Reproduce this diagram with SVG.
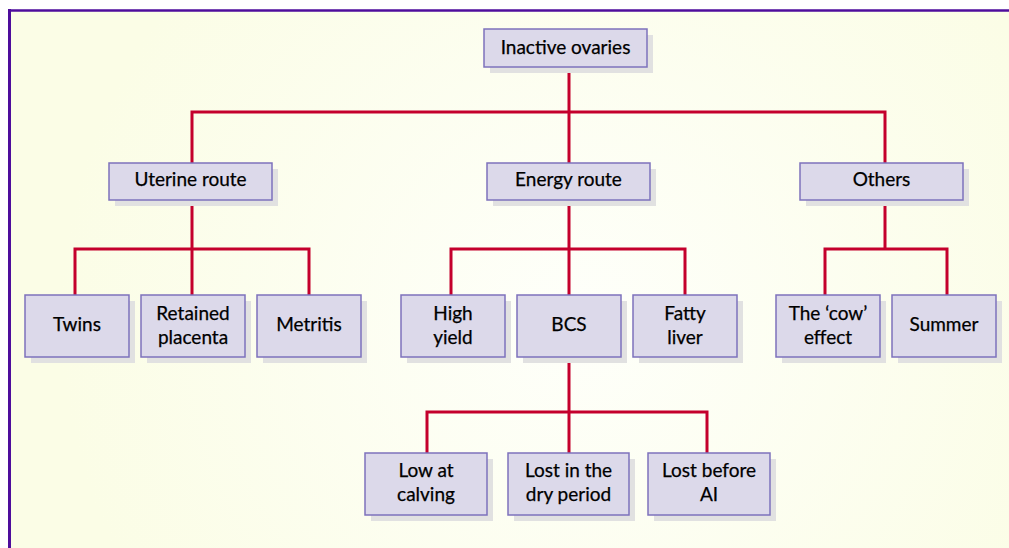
<svg xmlns="http://www.w3.org/2000/svg" width="1009" height="548" viewBox="0 0 1009 548">
<defs>
<radialGradient id="bg" cx="580" cy="320" r="520" gradientUnits="userSpaceOnUse">
<stop offset="0" stop-color="#fefffa"/>
<stop offset="1" stop-color="#fbfde6"/>
</radialGradient>
<style>
.sh{fill:#e1e1e1}
.bx{fill:#dcd9ea;stroke:#7d72bc;stroke-width:1.5}
.t{font-family:Lato,"Open Sans",sans-serif;font-size:19px;fill:#000;text-anchor:middle;stroke:#000;stroke-width:0.25}
.c{stroke:#c4002c;stroke-width:3;fill:none;stroke-linecap:square}
</style>
</defs>
<rect x="0" y="0" width="1009" height="548" fill="#ffffff"/>
<rect x="10" y="10" width="999" height="538" fill="url(#bg)"/>
<line x1="8" y1="10.5" x2="1009" y2="10.5" stroke="#4e0d9c" stroke-width="2.5"/>
<line x1="9.5" y1="9" x2="9.5" y2="548" stroke="#4e0d9c" stroke-width="3"/>
<g id="connectors">
<path class="c" d="M569 66V163M192 163V112H885V163"/>
<path class="c" d="M192 200V295M75 295V249H309V295"/>
<path class="c" d="M569 200V295M451 295V249H685V295"/>
<path class="c" d="M885 200V249M825 295V249H947V295"/>
<path class="c" d="M569 357V453M427 453V412H707V453"/>
</g>
<g id="n-inactive"><rect class="sh" x="490" y="35" width="163" height="38"/><rect class="bx" x="484" y="29" width="163" height="38"/><text class="t" x="565.5" y="53.5">Inactive ovaries</text></g>
<g id="n-uterine"><rect class="sh" x="115" y="169" width="163" height="37"/><rect class="bx" x="109" y="163" width="163" height="37"/><text class="t" x="190.5" y="186">Uterine route</text></g>
<g id="n-energy"><rect class="sh" x="493" y="169" width="163" height="37"/><rect class="bx" x="487" y="163" width="163" height="37"/><text class="t" x="568.5" y="186">Energy route</text></g>
<g id="n-others"><rect class="sh" x="806" y="169" width="163" height="37"/><rect class="bx" x="800" y="163" width="163" height="37"/><text class="t" x="881.5" y="186">Others</text></g>
<g id="n-twins"><rect class="sh" x="31" y="301" width="104" height="62"/><rect class="bx" x="25" y="295" width="104" height="62"/><text class="t" x="77" y="331">Twins</text></g>
<g id="n-retained"><rect class="sh" x="147" y="301" width="104" height="62"/><rect class="bx" x="141" y="295" width="104" height="62"/><text class="t" x="193" y="320">Retained</text><text class="t" x="193" y="344">placenta</text></g>
<g id="n-metritis"><rect class="sh" x="263" y="301" width="104" height="62"/><rect class="bx" x="257" y="295" width="104" height="62"/><text class="t" x="309" y="331">Metritis</text></g>
<g id="n-high"><rect class="sh" x="407" y="301" width="104" height="62"/><rect class="bx" x="401" y="295" width="104" height="62"/><text class="t" x="453" y="320">High</text><text class="t" x="453" y="344">yield</text></g>
<g id="n-bcs"><rect class="sh" x="523" y="301" width="104" height="62"/><rect class="bx" x="517" y="295" width="104" height="62"/><text class="t" x="569" y="331">BCS</text></g>
<g id="n-fatty"><rect class="sh" x="639" y="301" width="104" height="62"/><rect class="bx" x="633" y="295" width="104" height="62"/><text class="t" x="685" y="320">Fatty</text><text class="t" x="685" y="344">liver</text></g>
<g id="n-cow"><rect class="sh" x="782" y="301" width="104" height="62"/><rect class="bx" x="776" y="295" width="104" height="62"/><text class="t" x="828" y="320">The ‘cow’</text><text class="t" x="828" y="344">effect</text></g>
<g id="n-summer"><rect class="sh" x="898" y="301" width="104" height="62"/><rect class="bx" x="892" y="295" width="104" height="62"/><text class="t" x="944" y="331">Summer</text></g>
<g id="n-low"><rect class="sh" x="371" y="459" width="122" height="62"/><rect class="bx" x="365" y="453" width="122" height="62"/><text class="t" x="426" y="477">Low at</text><text class="t" x="426" y="501">calving</text></g>
<g id="n-dry"><rect class="sh" x="514" y="459" width="121" height="62"/><rect class="bx" x="508" y="453" width="121" height="62"/><text class="t" x="568.5" y="477">Lost in the</text><text class="t" x="568.5" y="501">dry period</text></g>
<g id="n-ai"><rect class="sh" x="654" y="459" width="122" height="62"/><rect class="bx" x="648" y="453" width="122" height="62"/><text class="t" x="709" y="477">Lost before</text><text class="t" x="709" y="501">AI</text></g>
</svg>
